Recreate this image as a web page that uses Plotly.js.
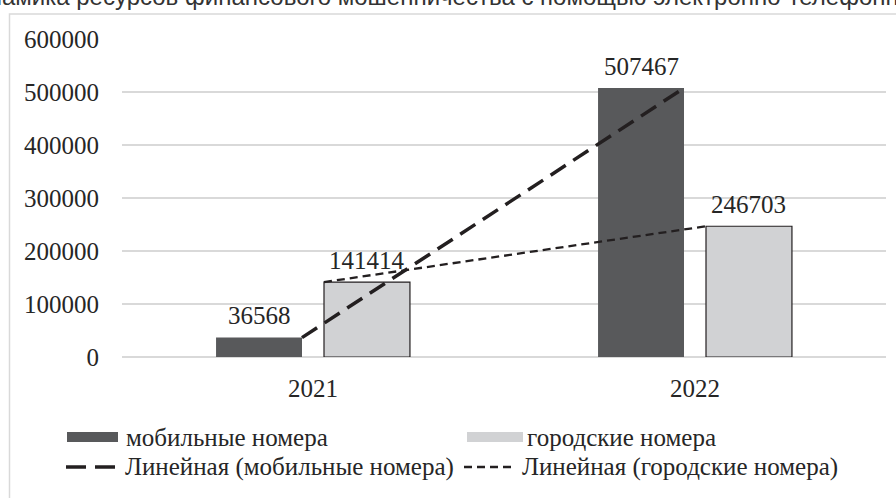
<!DOCTYPE html>
<html>
<head>
<meta charset="utf-8">
<script src="https://cdn.plot.ly/plotly-3.0.1.min.js"></script>
<style>
  html, body { margin: 0; padding: 0; background: #ffffff; }
  #chart { width: 896px; height: 498px; }
</style>
</head>
<body>
<div id="chart"></div>
<script>
// ---- data ----
const categories = ['2021', '2022'];
const mobileValues = [36568, 507467];
const cityValues = [141414, 246703];
const seriesNames = ['мобильные номера', 'городские номера'];
const trendNames = ['Линейная (мобильные номера)', 'Линейная (городские номера)'];
const yTickValues = [0, 100000, 200000, 300000, 400000, 500000, 600000];
const chartTitle = 'Динамика ресурсов финансового мошенничества с помощью электронно-телефонных номеров';

// ---- styling / geometry ----
const W = 896, H = 498;
const M = { l: 122, r: 10, t: 39, b: 141 };
const plotW = W - M.l - M.r, plotH = H - M.t - M.b;
const px = x => (x - M.l) / plotW;           // pixel -> paper x
const py = y => (H - M.b - y) / plotH;       // pixel -> paper y

const BAR_W = 0.225;      // bar width in category units
const BAR_GAP = 0.0576;   // gap between the two bars of a group
const mobileColor = '#58595b';
const cityColor = '#d1d2d4';
const inkColor = '#231f20';
const textColor = '#262626';
const SERIF = 'Liberation Serif';
const SANS = 'Liberation Sans';
const FS = 25;

const idx = categories.map((c, i) => i);
const mobileX = idx.map(i => i - BAR_GAP / 2);   // right edge of mobile bars
const cityX = idx.map(i => i + BAR_GAP / 2);     // left edge of city bars

// least-squares linear trend
function linearFit(xs, ys) {
  const n = xs.length;
  const mx = xs.reduce((a, b) => a + b, 0) / n;
  const my = ys.reduce((a, b) => a + b, 0) / n;
  let sxy = 0, sxx = 0;
  for (let i = 0; i < n; i++) { sxy += (xs[i] - mx) * (ys[i] - my); sxx += (xs[i] - mx) ** 2; }
  const k = sxy / sxx, b = my - k * mx;
  return xs.map(x => k * x + b);
}
const mobileTrend = linearFit(idx, mobileValues);
const cityTrend = linearFit(idx, cityValues);

const traces = [
  {
    type: 'bar', name: seriesNames[0], x: idx, y: mobileValues,
    width: BAR_W, offset: -BAR_GAP / 2 - BAR_W,
    marker: { color: mobileColor, line: { width: 0 } },
    showlegend: false, hoverinfo: 'skip'
  },
  {
    type: 'bar', name: seriesNames[1], x: idx, y: cityValues,
    width: BAR_W, offset: BAR_GAP / 2,
    marker: { color: cityColor, line: { color: inkColor, width: 1.2 } },
    showlegend: false, hoverinfo: 'skip'
  },
  {
    type: 'scatter', mode: 'lines', name: trendNames[0], x: mobileX, y: mobileTrend,
    line: { color: inkColor, width: 3.5, dash: '18px,9px' },
    showlegend: false, hoverinfo: 'skip', cliponaxis: false
  },
  {
    type: 'scatter', mode: 'lines', name: trendNames[1], x: cityX, y: cityTrend,
    line: { color: inkColor, width: 2.3, dash: '8px,5px' },
    showlegend: false, hoverinfo: 'skip', cliponaxis: false
  }
];

// value labels above bars
const annotations = [];
idx.forEach(i => {
  annotations.push({
    x: i - BAR_GAP / 2 - BAR_W / 2, y: mobileValues[i], xref: 'x', yref: 'y',
    text: String(mobileValues[i]), showarrow: false, yanchor: 'middle', yshift: 22,
    font: { family: SERIF, size: FS, color: textColor }
  });
  annotations.push({
    x: i + BAR_GAP / 2 + BAR_W / 2, y: cityValues[i], xref: 'x', yref: 'y',
    text: String(cityValues[i]), showarrow: false, yanchor: 'middle', yshift: 22,
    font: { family: SERIF, size: FS, color: textColor }
  });
});

// cropped title at the very top (as in the reference)
annotations.push({
  xref: 'paper', yref: 'paper', x: px(-43), y: py(12), xanchor: 'left', yanchor: 'bottom',
  text: chartTitle, showarrow: false,
  font: { family: SANS, size: 24, color: '#333333' }
});

// custom legend (text)
const legendItems = [
  { text: seriesNames[0], x: 124, y: 437 },
  { text: seriesNames[1], x: 525, y: 437 },
  { text: trendNames[0], x: 123, y: 467 },
  { text: trendNames[1], x: 520, y: 467 }
];
legendItems.forEach(it => annotations.push({
  xref: 'paper', yref: 'paper', x: px(it.x), y: py(it.y), xanchor: 'left', yanchor: 'middle',
  text: it.text, showarrow: false,
  font: { family: SERIF, size: FS, color: textColor }
}));

const shapes = [
  // outer chart-area border (extends past the right and bottom edges)
  { type: 'rect', xref: 'paper', yref: 'paper', x0: px(9.5), x1: px(905), y0: py(510), y1: py(14),
    line: { color: '#d9d9d9', width: 1.5 }, fillcolor: 'rgba(0,0,0,0)', layer: 'below' },
  // legend swatches
  { type: 'rect', xref: 'paper', yref: 'paper', x0: px(67), x1: px(118), y0: py(442), y1: py(432),
    line: { width: 0 }, fillcolor: mobileColor },
  { type: 'rect', xref: 'paper', yref: 'paper', x0: px(467), x1: px(523), y0: py(442), y1: py(432),
    line: { width: 0 }, fillcolor: cityColor },
  { type: 'line', xref: 'paper', yref: 'paper', x0: px(66), x1: px(118), y0: py(467), y1: py(467),
    line: { color: inkColor, width: 3.5, dash: '20px,9px' } },
  { type: 'line', xref: 'paper', yref: 'paper', x0: px(464), x1: px(514), y0: py(467), y1: py(467),
    line: { color: inkColor, width: 2.3, dash: '8px,5px' } }
];

const layout = {
  width: W, height: H,
  margin: M,
  paper_bgcolor: '#ffffff', plot_bgcolor: '#ffffff',
  barmode: 'overlay',
  showlegend: false,
  xaxis: {
    type: 'linear', range: [-0.5, 1.5], tickvals: idx, ticktext: categories,
    showgrid: false, zeroline: false, showline: false, ticks: '',
    ticklabelstandoff: 14,
    tickfont: { family: SERIF, size: FS, color: textColor }, fixedrange: true
  },
  yaxis: {
    range: [0, 600000], tickvals: yTickValues, ticktext: yTickValues.map(String),
    showgrid: true, gridcolor: '#d9d9d9', gridwidth: 1.5,
    zeroline: true, zerolinecolor: '#d9d9d9', zerolinewidth: 1.5,
    showline: false, ticks: '', ticklabelstandoff: 22,
    tickfont: { family: SERIF, size: FS, color: textColor }, fixedrange: true
  },
  annotations: annotations,
  shapes: shapes
};

Plotly.newPlot('chart', traces, layout, { displayModeBar: false, staticPlot: true });
</script>
</body>
</html>
